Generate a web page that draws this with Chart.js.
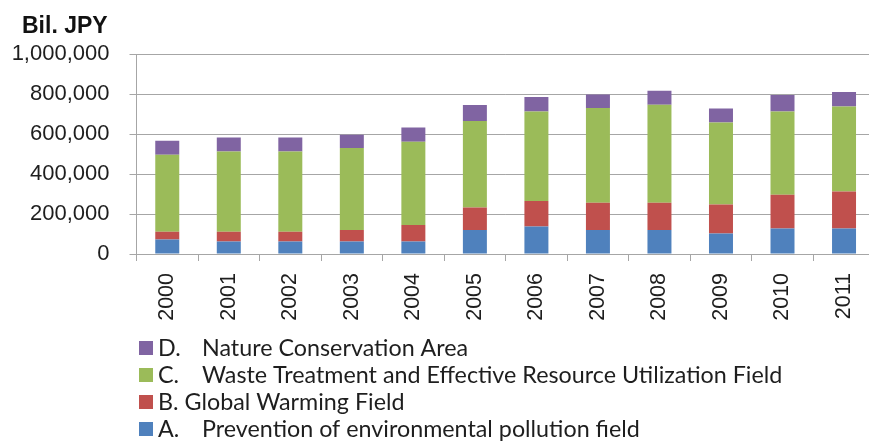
<!DOCTYPE html>
<html>
<head>
<meta charset="utf-8">
<script src="https://cdn.jsdelivr.net/npm/chart.js@4/dist/chart.umd.min.js"></script>
<style>
  html, body { margin: 0; padding: 0; background: #fff; overflow: hidden; }
  #wrap { width: 869px; height: 441px; overflow: hidden; }
</style>
</head>
<body>
<div id="wrap"><canvas id="envChart" width="882" height="441"></canvas></div>
<script>
var years = ['2000', '2001', '2002', '2003', '2004', '2005', '2006', '2007', '2008', '2009', '2010', '2011'];

// Bil. JPY per field, stacked bottom to top
var pollution = [72000, 63000, 63000, 63000, 63000, 120000, 138000, 120000, 120000, 103000, 128000, 128000];
var warming = [39000, 48000, 48000, 57000, 82000, 113000, 127000, 136000, 136000, 145000, 168000, 185000];
var waste = [385000, 402000, 402000, 410000, 416000, 432000, 448000, 474000, 490000, 410000, 417000, 425000];
var nature = [70000, 70000, 70000, 66000, 72000, 80000, 72000, 68000, 70000, 70000, 82000, 72000];

var fieldNames = [
    'A.\tPrevention of environmental pollution field',
    'B. Global Warming Field',
    'C.\tWaste Treatment and Effective Resource Utilization Field',
    'D.\tNature Conservation Area'
];
var yTicks = [0, 200000, 400000, 600000, 800000, 1000000];
var unitLabel = 'Bil. JPY';

var colors = ['#4F81BD', '#C0504D', '#9BBB59', '#8064A2'];
var gridColor = '#a6a6a6';
var textColor = '#1e1e1e';

// unit caption over the axis, plus the legend one entry per line under it
var captions = {
    id: 'captions',
    afterDraw: function(chart) {
        var ctx = chart.ctx;
        var sets = chart.data.datasets;
        ctx.save();
        ctx.textBaseline = 'alphabetic';
        ctx.fillStyle = '#111';
        ctx.font = 'bold 23px "Liberation Sans"';
        ctx.fillText(unitLabel, 22, 33);

        ctx.font = '23.3px Lato';
        ctx.textBaseline = 'middle';
        for (var i = sets.length - 1, row = 0; i >= 0; i--, row++) {
            var y = 348 + row * 27;
            ctx.fillStyle = sets[i].backgroundColor;
            ctx.fillRect(139, y - 7, 14, 14);
            ctx.fillStyle = textColor;
            var parts = sets[i].label.split('\t');
            ctx.fillText(parts[0], 158, y);
            if (parts.length > 1) ctx.fillText(parts[1], 202, y);
        }
        ctx.restore();
    }
};

var ctx = document.getElementById('envChart').getContext('2d');
var envChart = new Chart(ctx, {
    type: 'bar',
    data: {
        labels: years,
        datasets: [
            { label: fieldNames[0], data: pollution, backgroundColor: colors[0] },
            { label: fieldNames[1], data: warming, backgroundColor: colors[1] },
            { label: fieldNames[2], data: waste, backgroundColor: colors[2] },
            { label: fieldNames[3], data: nature, backgroundColor: colors[3] }
        ]
    },
    plugins: [captions],
    options: {
        responsive: false,
        animation: false,
        layout: { padding: { left: 6, right: 4, top: 54, bottom: 117 } },
        datasets: { bar: { barPercentage: 0.39, categoryPercentage: 1 } },
        plugins: {
            legend: { display: false },
            tooltip: { enabled: false },
            title: { display: false }
        },
        scales: {
            x: {
                stacked: true,
                grid: { drawOnChartArea: false, tickLength: 7, color: gridColor },
                border: { color: gridColor },
                ticks: {
                    minRotation: 90, maxRotation: 90, padding: 12,
                    color: textColor,
                    font: { family: 'Liberation Sans', size: 21.5 }
                },
                afterFit: function(scale) { scale.height = 70; }
            },
            y: {
                stacked: true,
                min: 0,
                max: 1000000,
                afterBuildTicks: function(scale) {
                    scale.ticks = yTicks.map(function(v) { return { value: v }; });
                },
                grid: { tickLength: 7, color: gridColor },
                border: { color: gridColor },
                ticks: {
                    padding: 20,
                    color: textColor,
                    font: { family: 'Liberation Sans', size: 22 },
                    callback: function(v) { return v.toLocaleString('en-US'); }
                },
                afterFit: function(scale) { scale.width = 130.5; }
            }
        }
    }
});
</script>
</body>
</html>
